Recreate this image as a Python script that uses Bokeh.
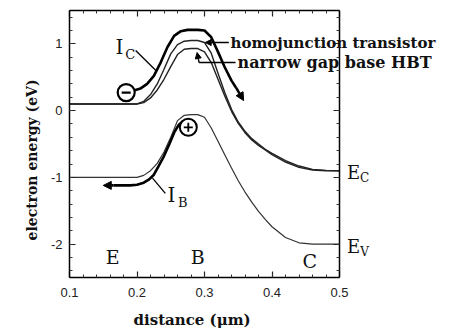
from bokeh.plotting import figure
from bokeh.models import LinearAxis, Label, Arrow, NormalHead, SingleIntervalTicker, Title
from bokeh.embed import file_html
from bokeh.resources import INLINE

# ---- data ----
band_x = [0.10, 0.20, 0.21, 0.22, 0.23, 0.24, 0.25, 0.26, 0.27, 0.28, 0.29, 0.30, 0.31,
          0.32, 0.33, 0.34, 0.35, 0.36, 0.37, 0.38, 0.39, 0.40, 0.42, 0.44, 0.46, 0.48, 0.50]
ec_homo = [0.10, 0.10, 0.14, 0.24, 0.40, 0.62, 0.85, 0.99, 1.04, 1.05, 1.05, 1.02, 0.86,
           0.56, 0.27, 0.02, -0.17, -0.31, -0.42, -0.50, -0.58, -0.64, -0.75, -0.83, -0.88, -0.895, -0.90]
ec_hbt = [0.10, 0.10, 0.12, 0.19, 0.31, 0.47, 0.66, 0.84, 0.92, 0.93, 0.93, 0.88, 0.72,
          0.47, 0.22, -0.01, -0.19, -0.33, -0.44, -0.52, -0.59, -0.66, -0.77, -0.85, -0.89, -0.90, -0.90]
ev = [-1.00, -1.00, -0.97, -0.90, -0.79, -0.62, -0.40, -0.15, -0.07, -0.06, -0.06, -0.10, -0.26,
      -0.46, -0.66, -0.86, -1.05, -1.22, -1.37, -1.51, -1.63, -1.74, -1.90, -1.98, -2.00, -2.00, -2.00]

ic_x = [0.192, 0.205, 0.215, 0.225, 0.235, 0.245, 0.255, 0.265, 0.275, 0.29, 0.30, 0.31, 0.32, 0.33, 0.34, 0.347]
ic_y = [0.29, 0.33, 0.40, 0.52, 0.72, 0.95, 1.12, 1.19, 1.21, 1.21, 1.20, 1.10, 0.88, 0.65, 0.45, 0.34]
ic_tip = (0.358, 0.15)

ib_x = [0.268, 0.262, 0.255, 0.248, 0.240, 0.232, 0.225, 0.218, 0.210, 0.200, 0.190, 0.165]
ib_y = [-0.16, -0.21, -0.33, -0.50, -0.68, -0.83, -0.96, -1.03, -1.08, -1.11, -1.12, -1.12]
ib_tip = (0.150, -1.12)

electron_pos = (0.184, 0.27)
hole_pos = (0.276, -0.25)

x_axis_bounds = (0.1, 0.5)
x_ticks_interval = 0.1
y_ticks_interval = 1
y_tick_labels = {-2: "-2", -1: "-1", 0: "0", 1: "1"}

SERIF = "DejaVu Serif"
SANS = "Liberation Sans"

# frame extends right of x=0.5 so that the right-hand texts are not clipped;
# the right axis is fixed at x=0.5 and acts as the frame's right edge.
p = figure(frame_width=378, frame_height=267, x_range=(0.1, 0.66), y_range=(-2.5, 1.5),
           output_backend="svg", toolbar_location=None,
           min_border_left=69, min_border_right=0, min_border_top=10, min_border_bottom=58,
           x_axis_location=None, y_axis_location=None)
p.grid.visible = False
p.outline_line_color = None
p.background_fill_color = "white"
p.border_fill_color = "white"

def style_axis(ax, show_labels):
    ax.major_tick_in = 6
    ax.major_tick_out = 0
    ax.minor_tick_in = 3
    ax.minor_tick_out = 0
    ax.axis_line_color = "black"
    ax.axis_line_width = 1.5
    ax.major_tick_line_color = "#222"
    ax.minor_tick_line_color = "#333"
    ax.major_tick_line_width = 1.2
    ax.minor_tick_line_width = 1
    if show_labels:
        ax.major_label_text_font = SANS
        ax.major_label_text_font_size = "13px"
        ax.major_label_text_color = "#222"
    else:
        ax.major_label_text_font_size = "1px"
        ax.major_label_text_color = None
        ax.major_label_standoff = 0

xb = LinearAxis(ticker=SingleIntervalTicker(interval=x_ticks_interval, num_minor_ticks=5),
                bounds=x_axis_bounds)
style_axis(xb, True)
xb.major_label_standoff = 10
p.add_layout(xb, "below")
xt = LinearAxis(ticker=SingleIntervalTicker(interval=x_ticks_interval, num_minor_ticks=5),
                bounds=x_axis_bounds)
style_axis(xt, False)
p.add_layout(xt, "above")
yl = LinearAxis(ticker=SingleIntervalTicker(interval=y_ticks_interval, num_minor_ticks=5))
style_axis(yl, True)
yl.major_label_overrides = y_tick_labels
yl.major_label_standoff = 7
p.add_layout(yl, "left")
yr = LinearAxis(ticker=SingleIntervalTicker(interval=y_ticks_interval, num_minor_ticks=5),
                fixed_location=x_axis_bounds[1])
style_axis(yr, False)
p.add_layout(yr, "right")

# axis titles
p.add_layout(Title(text="distance (\u03bcm)", align="left", offset=64, standoff=18,
                   text_font=SERIF, text_font_size="15px", text_font_style="bold",
                   text_color="#111"), "below")
p.add_layout(Title(text="electron energy (eV)", align="left", offset=37, standoff=12,
                   vertical_align="top",
                   text_font=SERIF, text_font_size="14px", text_font_style="bold",
                   text_color="#111"), "left")

# band edges
p.line(band_x, ec_homo, line_color="#222", line_width=1.4)
p.line(band_x, ec_hbt, line_color="#222", line_width=1.4)
p.line(band_x, ev, line_color="#333", line_width=1.2)

# current paths
p.line(ic_x, ic_y, line_color="black", line_width=2.6, line_join="round")
p.add_layout(Arrow(end=NormalHead(size=8, fill_color="black", line_color="black"),
                   x_start=ic_x[-1], y_start=ic_y[-1], x_end=ic_tip[0], y_end=ic_tip[1],
                   line_width=2.6, line_color="black"))
p.line(ib_x, ib_y, line_color="black", line_width=2.6, line_join="round")
p.add_layout(Arrow(end=NormalHead(size=8, fill_color="black", line_color="black"),
                   x_start=ib_x[-1], y_start=ib_y[-1], x_end=ib_tip[0], y_end=ib_tip[1],
                   line_width=2.6, line_color="black"))

# carriers
p.scatter([electron_pos[0]], [electron_pos[1]], marker="circle", size=17,
          fill_color="white", line_color="black", line_width=2.2)
p.scatter([electron_pos[0]], [electron_pos[1]], marker="dash", size=9,
          line_color="black", line_width=2.2)
p.scatter([hole_pos[0]], [hole_pos[1]], marker="circle", size=17,
          fill_color="white", line_color="black", line_width=2.0)
p.scatter([hole_pos[0]], [hole_pos[1]], marker="cross", size=9,
          line_color="black", line_width=1.8)

# leader lines
p.line([0.198, 0.228], [0.90, 0.60], line_color="black", line_width=1.3)
p.line([0.223, 0.242], [-1.01, -1.24], line_color="black", line_width=1.3)

# annotation arrows to curves
p.add_layout(Arrow(end=NormalHead(size=6, fill_color="black", line_color="black"),
                   x_start=0.336, y_start=1.02, x_end=0.301, y_end=1.02,
                   line_width=1.4, line_color="black"))
p.line([0.346, 0.292], [0.72, 0.72], line_color="black", line_width=1.4)
p.add_layout(Arrow(end=NormalHead(size=6, fill_color="black", line_color="black"),
                   x_start=0.292, y_start=0.72, x_end=0.289, y_end=0.87,
                   line_width=1.4, line_color="black"))

def lab(x, y, t, size, style="normal", align="center"):
    p.add_layout(Label(x=x, y=y, text=t, text_font=SERIF, text_font_size=size,
                       text_font_style=style, text_align=align, text_baseline="middle",
                       text_color="#111"))

lab(0.3385, 1.015, "homojunction transistor", "15px", style="bold", align="left")
lab(0.349, 0.716, "narrow gap base HBT", "16px", style="bold", align="left")

lab(0.174, 0.95, "I", "20px")
lab(0.190, 0.84, "C", "13px")
lab(0.251, -1.27, "I", "20px")
lab(0.268, -1.38, "B", "13px")

lab(0.521, -0.93, "E", "18px")
lab(0.537, -1.01, "C", "12px")
lab(0.521, -2.04, "E", "18px")
lab(0.537, -2.12, "V", "12px")

lab(0.164, -2.19, "E", "19px")
lab(0.290, -2.19, "B", "19px")
lab(0.456, -2.25, "C", "19px")

open("out.html", "w").write(file_html(p, INLINE))
